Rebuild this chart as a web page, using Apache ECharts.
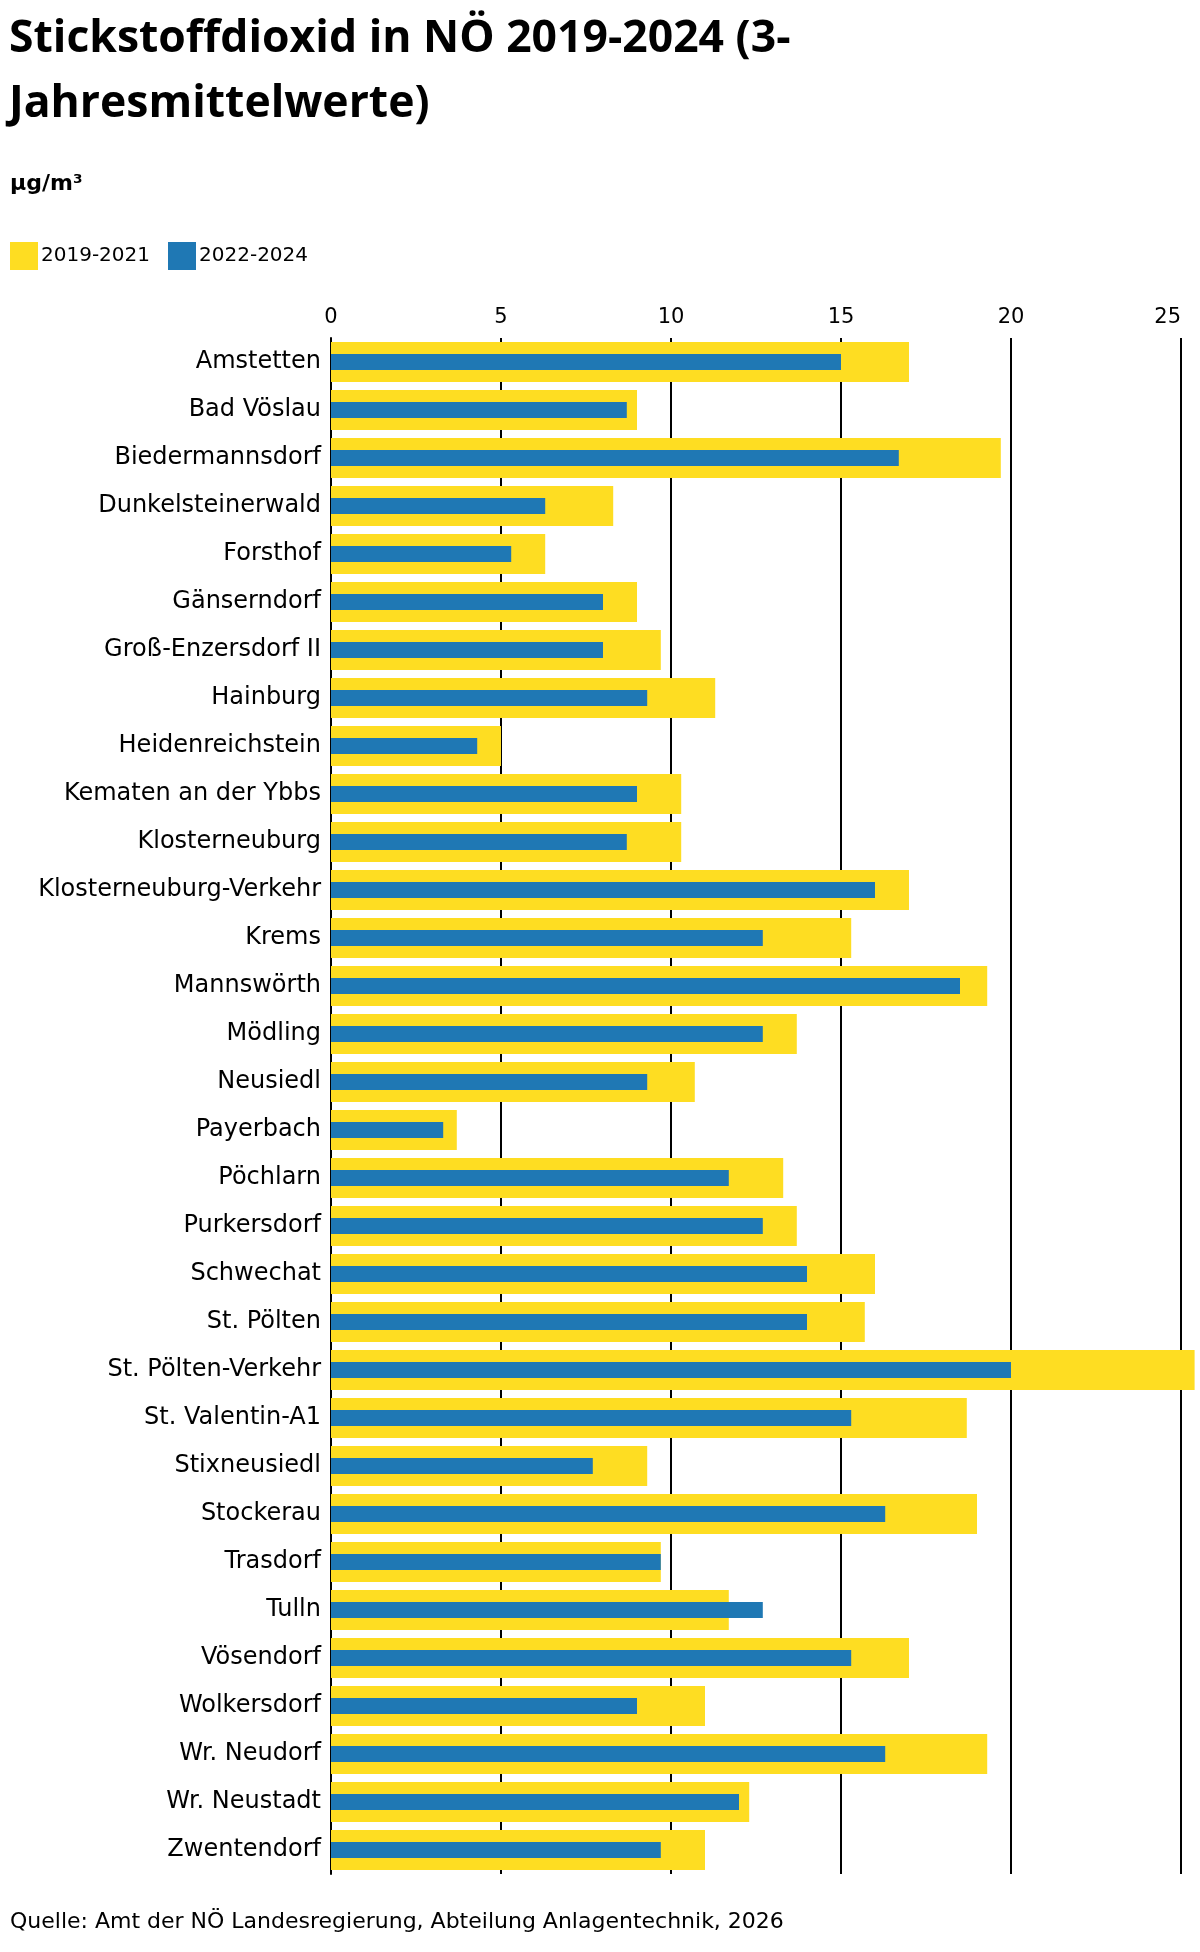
<!DOCTYPE html>
<html>
<head>
<meta charset="utf-8">
<script src="https://cdn.jsdelivr.net/npm/echarts@6/dist/echarts.min.js"></script>
<style>
html,body{margin:0;padding:0;background:#fff;}
#chart{width:1200px;height:1952px;}
</style>
</head>
<body>
<div id="chart"></div>
<script>
const categories = ["Amstetten","Bad Vöslau","Biedermannsdorf","Dunkelsteinerwald","Forsthof","Gänserndorf","Groß-Enzersdorf II","Hainburg","Heidenreichstein","Kematen an der Ybbs","Klosterneuburg","Klosterneuburg-Verkehr","Krems","Mannswörth","Mödling","Neusiedl","Payerbach","Pöchlarn","Purkersdorf","Schwechat","St. Pölten","St. Pölten-Verkehr","St. Valentin-A1","Stixneusiedl","Stockerau","Trasdorf","Tulln","Vösendorf","Wolkersdorf","Wr. Neudorf","Wr. Neustadt","Zwentendorf"];
const values2019_2021 = [17.0,9.0,19.7,8.3,6.3,9.0,9.7,11.3,5.0,10.3,10.3,17.0,15.3,19.3,13.7,10.7,3.7,13.3,13.7,16.0,15.7,25.4,18.7,9.3,19.0,9.7,11.7,17.0,11.0,19.3,12.3,11.0];
const values2022_2024 = [15.0,8.7,16.7,6.3,5.3,8.0,8.0,9.3,4.3,9.0,8.7,16.0,12.7,18.5,12.7,9.3,3.3,11.7,12.7,14.0,14.0,20.0,15.3,7.7,16.3,9.7,12.7,15.3,9.0,16.3,12.0,9.7];
const seriesNames = ["2019-2021","2022-2024"];
const xTicks = [0,5,10,15,20,25];

const FONT = "DejaVu Sans";
const chart = echarts.init(document.getElementById('chart'), null, {renderer:'canvas'});
chart.setOption({
  backgroundColor:'#fff',
  animation:false,
  textStyle:{fontFamily:FONT,color:'#000'},
  title:[
    {text:'Stickstoffdioxid in NÖ 2019-2024 (3-\nJahresmittelwerte)',left:9,top:7,padding:0,
     textStyle:{fontFamily:'Open Sans',fontSize:44.5,fontWeight:'bold',color:'#000',lineHeight:65}},
    {text:'µg/m³',left:10,top:173,padding:0,textStyle:{fontFamily:FONT,fontSize:22,fontWeight:'bold',color:'#000'}},
    {text:'Quelle: Amt der NÖ Landesregierung, Abteilung Anlagentechnik, 2026',left:10,top:1911,padding:0,
     textStyle:{fontFamily:FONT,fontSize:22,fontWeight:'normal',color:'#000'}}
  ],
  legend:{left:10,top:242,padding:0,itemWidth:28,itemHeight:28,itemGap:18,icon:'rect',
    textStyle:{fontFamily:FONT,fontSize:20,color:'#000',padding:[0,0,0,-2]},
    data:seriesNames},
  grid:{left:331,right:19,top:338,bottom:78,containLabel:false},
  xAxis:{type:'value',position:'top',min:xTicks[0],max:xTicks[xTicks.length-1],interval:5,
    axisLine:{show:false},axisTick:{show:false},
    axisLabel:{fontFamily:FONT,fontSize:21,color:'#000',margin:10,alignMaxLabel:'right'},
    splitLine:{show:true,lineStyle:{color:'#000',width:2}}},
  yAxis:[
    {type:'category',data:categories,inverse:true,
     axisLine:{show:true,lineStyle:{color:'#000',width:2}},axisTick:{show:false},
     axisLabel:{fontFamily:FONT,fontSize:24,color:'#000',margin:10}},
    {type:'category',data:categories,inverse:true,position:'left',show:false}
  ],
  series:[
    {name:seriesNames[0],type:'bar',data:values2019_2021,barWidth:40,clip:false,yAxisIndex:0,
     itemStyle:{color:'#FEDD22'},z:2},
    {name:seriesNames[1],type:'bar',data:values2022_2024,barWidth:16,clip:false,yAxisIndex:1,
     itemStyle:{color:'#1F78B4'},z:3}
  ]
});
</script>
</body>
</html>
